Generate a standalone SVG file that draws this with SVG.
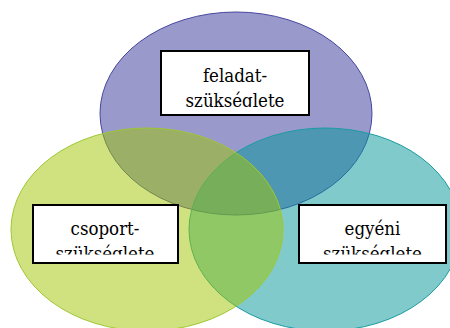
<svg xmlns="http://www.w3.org/2000/svg" width="450" height="328" viewBox="0 0 450 328">
<style>
text{font-family:'DejaVu Serif Condensed','DejaVu Serif',serif;font-size:18.5px;fill:#000;text-anchor:middle}
.box{fill:#fff;stroke:#000;stroke-width:2}
</style>
<defs>
<clipPath id="c1"><rect x="162" y="52" width="146" height="55"/></clipPath>
<clipPath id="c2"><rect x="34" y="205" width="143" height="49.5"/></clipPath>
<clipPath id="c3"><rect x="300" y="205" width="145" height="49.5"/></clipPath>
</defs>
<rect width="450" height="328" fill="#fff"/>
<g id="circles">
<ellipse id="feladat-circle" cx="236" cy="113.5" rx="136" ry="101.5" fill="#333399" fill-opacity="0.5" stroke="#4646a0" stroke-width="1"/>
<ellipse id="egyeni-circle" cx="325" cy="229.5" rx="136" ry="101.5" fill="#019599" fill-opacity="0.5" stroke="#1a9ca2" stroke-width="1"/>
<ellipse id="csoport-circle" cx="147" cy="229.5" rx="136" ry="101.5" fill="#9fc500" fill-opacity="0.5" stroke="#9ec832" stroke-width="1"/>
</g>
<g id="feladat">
<rect class="box" x="161" y="51" width="148" height="64"/>
<g clip-path="url(#c1)">
<text x="235" y="82">feladat-</text>
<text x="235" y="107">szükséglete</text>
</g>
</g>
<g id="csoport">
<rect class="box" x="33" y="205" width="145" height="58"/>
<g clip-path="url(#c2)">
<text x="105" y="235">csoport-</text>
<text x="105" y="260">szükséglete</text>
</g>
</g>
<g id="egyeni">
<rect class="box" x="299" y="205" width="147" height="58"/>
<g clip-path="url(#c3)">
<text x="372.5" y="235">egyéni</text>
<text x="372.5" y="260">szükséglete</text>
</g>
</g>
</svg>
